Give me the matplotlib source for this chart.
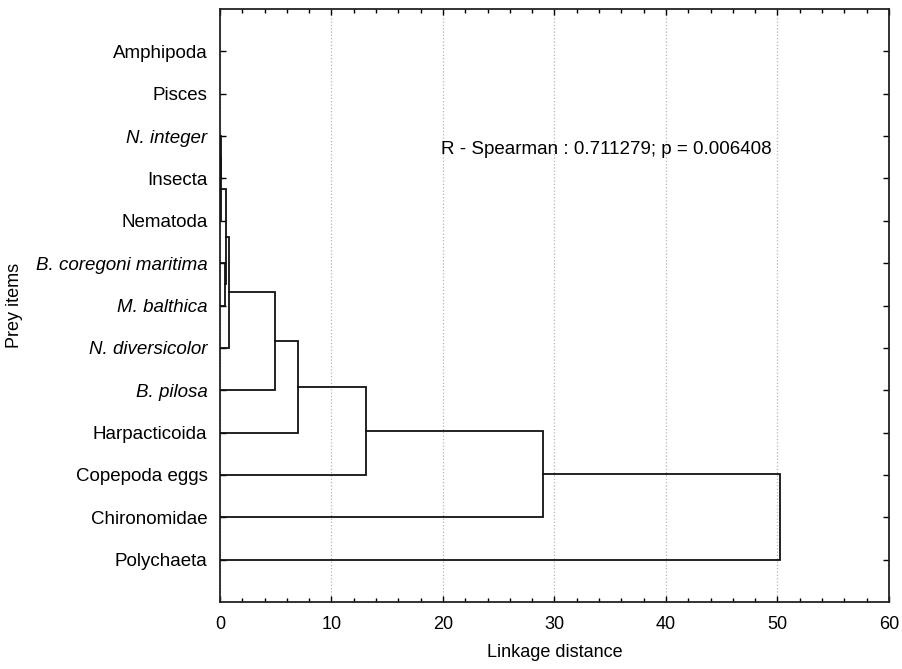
import matplotlib
matplotlib.use("Agg")
import matplotlib.pyplot as plt
from matplotlib.ticker import MultipleLocator

# prey items, top to bottom
items = ["Amphipoda", "Pisces", "N. integer", "Insecta", "Nematoda",
         "B. coregoni maritima", "M. balthica", "N. diversicolor", "B. pilosa",
         "Harpacticoida", "Copepoda eggs", "Chironomidae", "Polychaeta"]
italic_items = ["N. integer", "B. coregoni maritima", "M. balthica",
                "N. diversicolor", "B. pilosa"]

# joins: new cluster ids start at len(items)
join_left = [2, 13, 5, 14, 16, 17, 18, 19, 20, 21]
join_right = [3, 4, 6, 15, 7, 8, 9, 10, 11, 12]
join_dist = [0.05, 0.10, 0.42, 0.57, 0.78, 4.93, 7.02, 13.05, 28.95, 50.2]

note = "R - Spearman : 0.711279; p = 0.006408"

plt.rcParams['font.family'] = ['Liberation Sans', 'DejaVu Sans']

fig = plt.figure(figsize=(9.03, 6.69), dpi=100)
ax = fig.add_axes([220 / 903, 67 / 669, 669 / 903, 593 / 669])

# positions / heights of every node
ypos = {i: float(i) for i in range(len(items))}
height = {i: 0.0 for i in range(len(items))}
for k, (a, b, d) in enumerate(zip(join_left, join_right, join_dist)):
    ax.plot([height[a], d, d, height[b]], [ypos[a], ypos[a], ypos[b], ypos[b]],
            color='#111111', lw=1.3, solid_joinstyle='miter', zorder=3)
    new = len(items) + k
    ypos[new] = (ypos[a] + ypos[b]) / 2
    height[new] = d

ax.set_xlim(0, 60)
ax.set_ylim(13, -1)

ax.xaxis.set_major_locator(MultipleLocator(10))
ax.xaxis.set_minor_locator(MultipleLocator(2))
ax.set_yticks(range(len(items)))
ax.set_yticklabels(items, fontsize=13.5)
for lab in ax.get_yticklabels():
    if lab.get_text() in italic_items:
        lab.set_style('italic')

ax.tick_params(axis='x', which='both', direction='in', top=True, bottom=True,
               pad=10, labelsize=13)
ax.tick_params(axis='x', which='major', length=4, width=1)
ax.tick_params(axis='x', which='minor', length=3, width=1)
ax.tick_params(axis='y', direction='in', left=True, right=True, length=4,
               width=1, pad=9)
for lab in ax.get_xticklabels():
    lab.set_family(['Liberation Sans Narrow', 'Liberation Sans'])

ax.grid(axis='x', which='major', linestyle=':', color='#b5b5b5', lw=0.9)
for sp in ax.spines.values():
    sp.set_linewidth(1.3)
    sp.set_color('#222222')

ax.text(19.82, 2.31, note, fontsize=13.5, ha='left', va='center')

ax.set_xlabel("Linkage distance", fontsize=13)
ax.xaxis.set_label_coords(0.5, -0.071)
ax.set_ylabel("Prey items", fontsize=13)
ax.yaxis.set_label_coords(-0.294, 0.5)

fig.savefig("out.png", dpi=100)
